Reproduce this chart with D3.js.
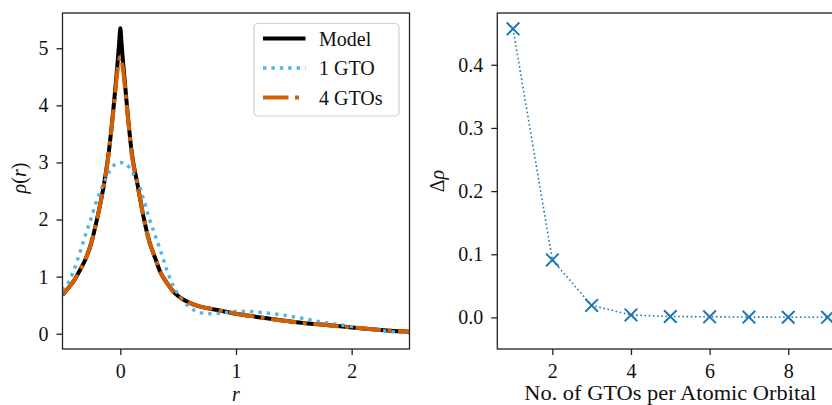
<!DOCTYPE html>
<html>
<head>
<meta charset="utf-8">
<script src="https://cdn.jsdelivr.net/npm/d3@7"></script>
<style>
  html, body { margin: 0; padding: 0; background: #fff; overflow: hidden; }
  svg { display: block; font-family: "Liberation Serif", "DejaVu Serif", serif; }
  .tick text { font-family: "Liberation Serif", "DejaVu Serif", serif; font-size: 20px; fill: #111; }
  .tick line { stroke: #222; stroke-width: 1.3; }
</style>
</head>
<body>
<svg id="chart" width="832" height="405"></svg>
<script>
// density profile rho(r): sampled radii and values for each curve
const modelR   = [-0.5, -0.45, -0.4, -0.35, -0.3, -0.25, -0.2, -0.15, -0.1, -0.05, -0.025, -0.01, 0,
                   0.01, 0.025, 0.05, 0.1, 0.15, 0.2, 0.25, 0.3, 0.35, 0.4, 0.45, 0.5, 0.6, 0.7, 0.8,
                   0.9, 1.0, 1.2, 1.4, 1.6, 1.8, 2.0, 2.2, 2.4, 2.5];
const modelRho = [0.68, 0.80, 0.93, 1.11, 1.31, 1.60, 2.02, 2.52, 3.18, 4.15, 4.72, 5.10, 5.35,
                  5.10, 4.72, 4.15, 3.15, 2.60, 2.05, 1.62, 1.33, 1.06, 0.90, 0.76, 0.66, 0.54, 0.47, 0.43,
                  0.39, 0.35, 0.29, 0.23, 0.185, 0.15, 0.11, 0.075, 0.045, 0.035];

const gto1R   = [-0.5, -0.45, -0.4, -0.35, -0.3, -0.25, -0.2, -0.15, -0.1, -0.05, 0, 0.05, 0.1, 0.15,
                 0.2, 0.25, 0.3, 0.35, 0.4, 0.45, 0.5, 0.55, 0.6, 0.65, 0.7, 0.8, 0.9, 1.0, 1.1, 1.2,
                 1.3, 1.4, 1.5, 1.6, 1.7, 1.8, 1.9, 2.0, 2.1, 2.2, 2.3, 2.4, 2.5];
const gto1Rho = [0.76, 0.89, 1.12, 1.42, 1.74, 2.04, 2.36, 2.60, 2.82, 2.96, 3.00, 2.97, 2.84, 2.66,
                 2.36, 2.02, 1.73, 1.44, 1.13, 0.87, 0.69, 0.56, 0.46, 0.40, 0.365, 0.35, 0.37, 0.39, 0.39, 0.375,
                 0.355, 0.33, 0.295, 0.26, 0.22, 0.187, 0.157, 0.125, 0.10, 0.07, 0.045, 0.025, 0.012];

const gto4R   = [-0.5, -0.45, -0.4, -0.35, -0.3, -0.25, -0.2, -0.15, -0.1, -0.05, -0.025, 0,
                 0.025, 0.05, 0.1, 0.15, 0.2, 0.25, 0.3, 0.35, 0.4, 0.45, 0.5, 0.6, 0.7, 0.8,
                 0.9, 1.0, 1.2, 1.4, 1.6, 1.8, 2.0, 2.2, 2.4, 2.5];
const gto4Rho = [0.68, 0.80, 0.93, 1.11, 1.31, 1.60, 2.02, 2.52, 3.16, 4.10, 4.60, 4.85,
                 4.60, 4.10, 3.13, 2.60, 2.05, 1.62, 1.33, 1.06, 0.90, 0.76, 0.66, 0.54, 0.47, 0.43,
                 0.39, 0.35, 0.29, 0.23, 0.185, 0.15, 0.11, 0.075, 0.045, 0.035];

// convergence: density error vs number of GTOs per atomic orbital
const nGTO     = [1, 2, 3, 4, 5, 6, 7, 8, 9];
const deltaRho = [0.457, 0.091, 0.019, 0.004, 0.0015, 0.001, 0.0005, 0.0003, 0.0002];

const leftTicksX  = [0, 1, 2];
const leftTicksY  = [0, 1, 2, 3, 4, 5];
const rightTicksX = [2, 4, 6, 8];
const rightTicksY = [0, 0.1, 0.2, 0.3, 0.4];

const seriesCfg = [
  { name: "Model",  r: modelR, rho: modelRho, color: "#000000", width: 4,   dash: null },
  { name: "1 GTO",  r: gto1R,  rho: gto1Rho,  color: "#56B4E9", width: 3.4, dash: "3.4,5" },
  { name: "4 GTOs", r: gto4R,  rho: gto4Rho,  color: "#D55E00", width: 4,   dash: "25.5,6.5,4,6.5" },
];

const svg = d3.select("#chart");
const FRAME = "#222";
const SERIF = '"Liberation Serif", "DejaVu Serif", serif';

// ── left panel: rho(r) ──────────────────────────────────────────────
const L = { x0: 62.5, x1: 409.5, y0: 13, y1: 349 };
const xL = d3.scaleLinear().domain([-0.5, 2.5]).range([L.x0, L.x1]);
const yL = d3.scaleLinear().domain([-0.2675, 5.6175]).range([L.y1, L.y0]);

svg.append("clipPath").attr("id", "clipL")
  .append("rect").attr("x", L.x0).attr("y", L.y0)
  .attr("width", L.x1 - L.x0).attr("height", L.y1 - L.y0);

const gL = svg.append("g").attr("clip-path", "url(#clipL)");
seriesCfg.forEach(s => {
  const pts = s.r.map((r, i) => [r, s.rho[i]]);
  gL.append("path")
    .attr("d", d3.line().x(d => xL(d[0])).y(d => yL(d[1])).curve(d3.curveMonotoneX)(pts))
    .attr("fill", "none")
    .attr("stroke", s.color)
    .attr("stroke-width", s.width)
    .attr("stroke-dasharray", s.dash)
    .attr("stroke-linejoin", "round");
});

svg.append("g").attr("transform", `translate(0,${L.y1})`).attr("font-family", SERIF)
  .call(d3.axisBottom(xL).tickValues(leftTicksX).tickFormat(d3.format("d")).tickSize(6).tickPadding(9).tickSizeOuter(0))
  .call(g => g.select(".domain").remove())
  .attr("font-family", SERIF);
svg.append("g").attr("transform", `translate(${L.x0},0)`)
  .call(d3.axisLeft(yL).tickValues(leftTicksY).tickFormat(d3.format("d")).tickSize(6).tickPadding(8).tickSizeOuter(0))
  .call(g => g.select(".domain").remove())
  .attr("font-family", SERIF);

svg.append("rect")
  .attr("x", L.x0).attr("y", L.y0).attr("width", L.x1 - L.x0).attr("height", L.y1 - L.y0)
  .attr("fill", "none").attr("stroke", FRAME).attr("stroke-width", 1.3);

// legend
const leg = svg.append("g");
leg.append("rect")
  .attr("x", 254).attr("y", 23.5).attr("width", 145).attr("height", 92.5).attr("rx", 4)
  .attr("fill", "#fff").attr("fill-opacity", 0.8)
  .attr("stroke", "#d0d0d0").attr("stroke-width", 1.2);
seriesCfg.forEach((s, i) => {
  const yy = 38.5 + i * 29.5;
  leg.append("line")
    .attr("x1", 263).attr("x2", 305.5).attr("y1", yy).attr("y2", yy)
    .attr("stroke", s.color).attr("stroke-width", s.width)
    .attr("stroke-dasharray", s.dash);
  leg.append("text")
    .attr("x", 319).attr("y", yy).attr("dy", "0.35em")
    .attr("font-size", 20).attr("fill", "#111")
    .text(s.name);
});

// axis labels
svg.append("text")
  .attr("x", (L.x0 + L.x1) / 2).attr("y", 401)
  .attr("text-anchor", "middle").attr("font-size", 20).attr("font-style", "italic")
  .attr("fill", "#111").text("r");

const ylabL = svg.append("text")
  .attr("transform", `translate(26,${(L.y0 + L.y1) / 2 - 3}) rotate(-90)`)
  .attr("text-anchor", "middle").attr("font-size", 20).attr("fill", "#111");
ylabL.append("tspan").attr("font-style", "italic").text("ρ");
ylabL.append("tspan").text("(");
ylabL.append("tspan").attr("font-style", "italic").text("r");
ylabL.append("tspan").text(")");

// ── right panel: error vs basis size ────────────────────────────────
const R = { x0: 497.3, x1: 843.3, y0: 13, y1: 349 };
const xR = d3.scaleLinear().domain([0.6, 9.4]).range([R.x0, R.x1]);
const yR = d3.scaleLinear().domain([-0.05, 0.482]).range([R.y1, R.y0]);

svg.append("clipPath").attr("id", "clipR")
  .append("rect").attr("x", R.x0).attr("y", R.y0)
  .attr("width", R.x1 - R.x0).attr("height", R.y1 - R.y0);

const gR = svg.append("g").attr("clip-path", "url(#clipR)");
const errPts = nGTO.map((n, i) => [n, deltaRho[i]]);
const BLUE = "#1f77b4";

gR.append("path")
  .attr("d", d3.line().x(d => xR(d[0])).y(d => yR(d[1]))(errPts))
  .attr("fill", "none").attr("stroke", BLUE)
  .attr("stroke-width", 1.6).attr("stroke-dasharray", "1.6,2.6");

const arm = 6.3;
gR.selectAll("path.mark").data(errPts).enter().append("path")
  .attr("class", "mark")
  .attr("d", d => {
    const cx = xR(d[0]), cy = yR(d[1]);
    return `M${cx - arm},${cy - arm}L${cx + arm},${cy + arm}M${cx - arm},${cy + arm}L${cx + arm},${cy - arm}`;
  })
  .attr("stroke", BLUE).attr("stroke-width", 2).attr("fill", "none");

svg.append("g").attr("transform", `translate(0,${R.y1})`)
  .call(d3.axisBottom(xR).tickValues(rightTicksX).tickFormat(d3.format("d")).tickSize(6).tickPadding(9).tickSizeOuter(0))
  .call(g => g.select(".domain").remove())
  .attr("font-family", SERIF);
svg.append("g").attr("transform", `translate(${R.x0},0)`)
  .call(d3.axisLeft(yR).tickValues(rightTicksY).tickFormat(d3.format(".1f")).tickSize(6).tickPadding(8).tickSizeOuter(0))
  .call(g => g.select(".domain").remove())
  .attr("font-family", SERIF);

svg.append("rect")
  .attr("x", R.x0).attr("y", R.y0).attr("width", R.x1 - R.x0).attr("height", R.y1 - R.y0)
  .attr("fill", "none").attr("stroke", FRAME).attr("stroke-width", 1.3);

svg.append("text")
  .attr("x", (R.x0 + R.x1) / 2).attr("y", 400)
  .attr("text-anchor", "middle").attr("font-size", 20).attr("fill", "#111")
  .attr("textLength", 292).attr("lengthAdjust", "spacingAndGlyphs")
  .text("No. of GTOs per Atomic Orbital");

const ylabR = svg.append("text")
  .attr("transform", `translate(444,${(R.y0 + R.y1) / 2}) rotate(-90)`)
  .attr("text-anchor", "middle").attr("font-size", 20).attr("fill", "#111");
ylabR.append("tspan").text("Δ");
ylabR.append("tspan").attr("font-style", "italic").text("ρ");
</script>
</body>
</html>
